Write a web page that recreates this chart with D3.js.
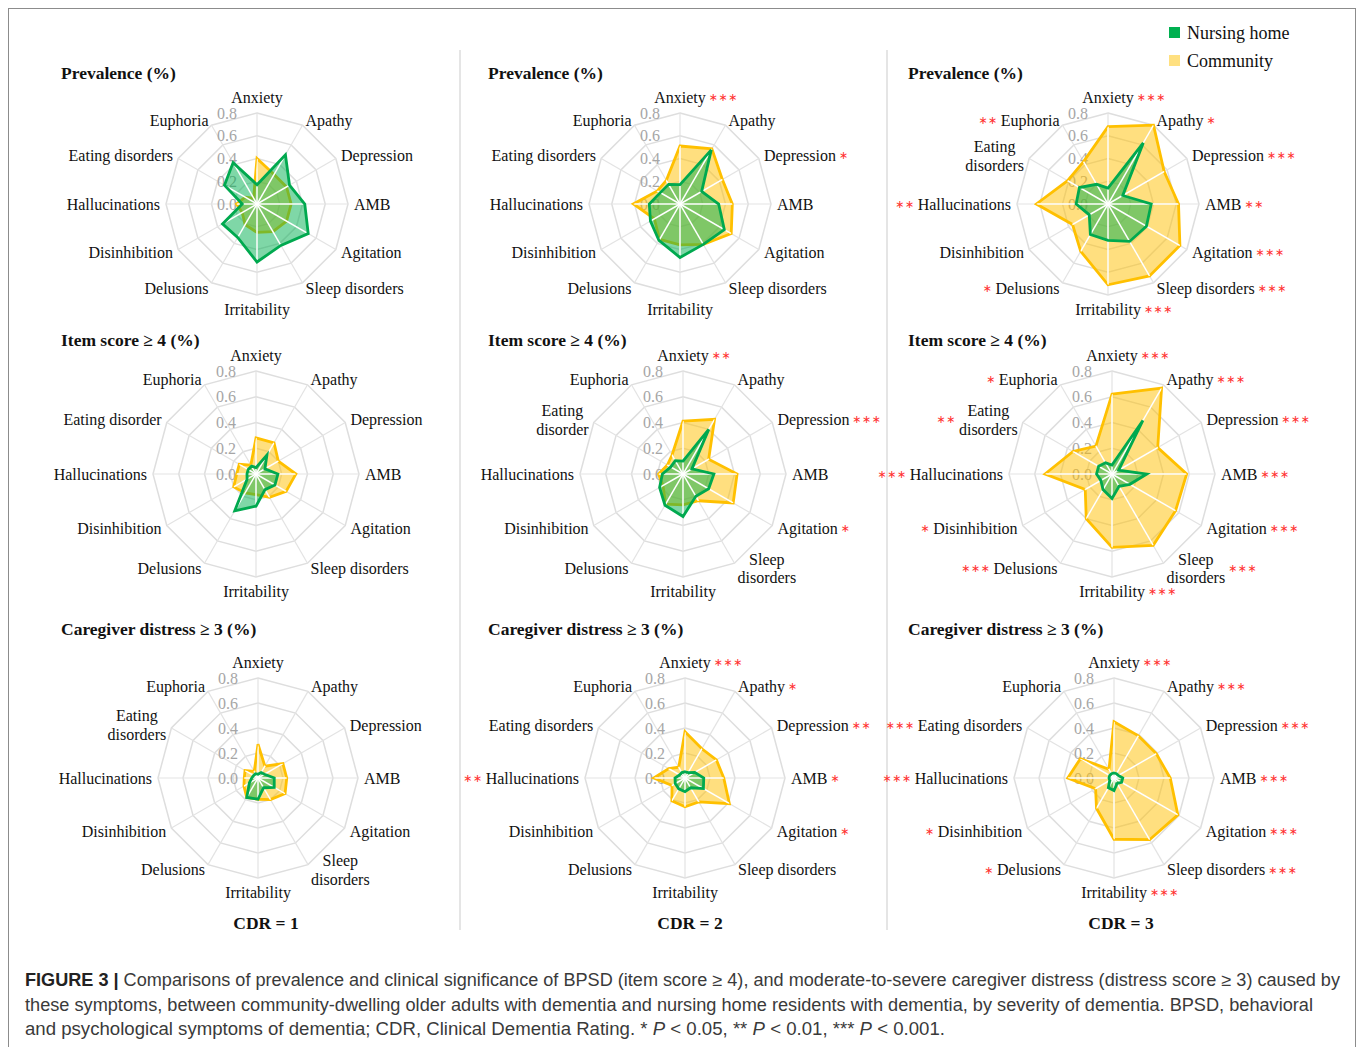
<!DOCTYPE html>
<html>
<head>
<meta charset="utf-8">
<script src="https://cdn.jsdelivr.net/npm/d3@7"></script>
<style>
  body { margin: 0; background: #fff; }
  svg text { font-family: "Liberation Serif", "Times New Roman", serif; }
</style>
</head>
<body>
<svg id="fig" width="1358" height="1047"></svg>
<script>
// order of the axes, clockwise from the top
const symptoms = ["Anxiety", "Apathy", "Depression", "AMB", "Agitation", "Sleep disorders",
  "Irritability", "Delusions", "Disinhibition", "Hallucinations", "Eating disorders", "Euphoria"];
const ticks = [0.0, 0.2, 0.4, 0.6, 0.8];
const ringValues = [0.2, 0.4, 0.6, 0.8];
const cdrLabels = ["CDR = 1", "CDR = 2", "CDR = 3"];
const rowTitles = ["Prevalence (%)", "Item score \u2265 4 (%)", "Caregiver distress \u2265 3 (%)"];

// Prevalence
const prevNursing1 = [0.17, 0.50, 0.33, 0.42, 0.52, 0.42, 0.51, 0.34, 0.35, 0.13, 0.33, 0.42];
const prevCommunity1 = [0.40, 0.30, 0.30, 0.30, 0.30, 0.28, 0.25, 0.21, 0.15, 0.18, 0.12, 0.06];
const prevNursing2 = [0.17, 0.55, 0.22, 0.34, 0.45, 0.41, 0.47, 0.37, 0.30, 0.27, 0.20, 0.20];
const prevCommunity2 = [0.51, 0.56, 0.43, 0.46, 0.52, 0.41, 0.36, 0.36, 0.26, 0.41, 0.23, 0.24];
const prevNursing3 = [0.14, 0.62, 0.15, 0.38, 0.39, 0.38, 0.32, 0.31, 0.19, 0.28, 0.29, 0.20];
const prevCommunity3 = [0.68, 0.80, 0.57, 0.62, 0.73, 0.73, 0.71, 0.48, 0.36, 0.63, 0.41, 0.43];

// Item score >= 4
const itemNursing1 = [0.05, 0.17, 0.08, 0.17, 0.17, 0.14, 0.25, 0.33, 0.08, 0.07, 0.07, 0.07];
const itemCommunity1 = [0.28, 0.28, 0.20, 0.31, 0.27, 0.21, 0.16, 0.17, 0.20, 0.15, 0.15, 0.08];
const itemNursing2 = [0.10, 0.40, 0.08, 0.24, 0.23, 0.20, 0.33, 0.28, 0.21, 0.16, 0.11, 0.12];
const itemCommunity2 = [0.41, 0.49, 0.23, 0.42, 0.45, 0.24, 0.24, 0.27, 0.18, 0.19, 0.14, 0.17];
const itemNursing3 = [0.07, 0.48, 0.06, 0.27, 0.16, 0.11, 0.19, 0.14, 0.10, 0.12, 0.12, 0.10];
const itemCommunity3 = [0.62, 0.77, 0.41, 0.58, 0.57, 0.64, 0.57, 0.40, 0.24, 0.52, 0.35, 0.25];

// Caregiver distress >= 3
const distNursing1 = [0.03, 0.05, 0.06, 0.13, 0.15, 0.09, 0.17, 0.18, 0.08, 0.05, 0.04, 0.04];
const distCommunity1 = [0.27, 0.11, 0.23, 0.23, 0.25, 0.20, 0.17, 0.18, 0.13, 0.11, 0.12, 0.06];
const distNursing2 = [0.05, 0.05, 0.09, 0.15, 0.17, 0.09, 0.11, 0.10, 0.09, 0.08, 0.05, 0.05];
const distCommunity2 = [0.37, 0.27, 0.29, 0.31, 0.41, 0.22, 0.23, 0.21, 0.12, 0.25, 0.15, 0.10];
const distNursing3 = [0.04, 0.04, 0.04, 0.07, 0.07, 0.05, 0.10, 0.09, 0.04, 0.04, 0.04, 0.04];
const distCommunity3 = [0.45, 0.39, 0.39, 0.45, 0.59, 0.57, 0.49, 0.28, 0.17, 0.37, 0.31, 0.08];

// significance marks per axis
const noStars = ["", "", "", "", "", "", "", "", "", "", "", ""];
const starsPrev2 = ["***", "", "*", "", "", "", "", "", "", "", "", ""];
const starsPrev3 = ["***", "*", "***", "**", "***", "***", "***", "*", "", "**", "", "**"];
const starsItem2 = ["**", "", "***", "", "*", "", "", "", "", "", "", ""];
const starsItem3 = ["***", "***", "***", "***", "***", "***", "***", "***", "*", "***", "**", "*"];
const starsDist2 = ["***", "*", "**", "*", "*", "", "", "", "", "**", "", ""];
const starsDist3 = ["***", "***", "***", "***", "***", "***", "***", "*", "*", "***", "***", ""];

// label variants (line breaks as in the figure)
const labelsPrev3 = symptoms.map(s => s === "Eating disorders" ? "Eating\ndisorders" : s);
const labelsItem1 = symptoms.map(s => s === "Eating disorders" ? "Eating disorder" : s);
const labelsItem2 = symptoms.map(s => s === "Eating disorders" ? "Eating\ndisorder" : s === "Sleep disorders" ? "Sleep\ndisorders" : s);
const labelsBroken = symptoms.map(s => s === "Eating disorders" ? "Eating\ndisorders" : s === "Sleep disorders" ? "Sleep\ndisorders" : s);

const GREEN = "#00a94f", YELLOW = "#ffc000";

const rows = [
  { cy: 204, radius: 91, titleY: 79, cx: [257, 680, 1108],
    nursing: [prevNursing1, prevNursing2, prevNursing3],
    community: [prevCommunity1, prevCommunity2, prevCommunity3],
    stars: [noStars, starsPrev2, starsPrev3],
    labels: [symptoms, symptoms, labelsPrev3] },
  { cy: 474, radius: 103, titleY: 346, cx: [256, 683, 1112],
    nursing: [itemNursing1, itemNursing2, itemNursing3],
    community: [itemCommunity1, itemCommunity2, itemCommunity3],
    stars: [noStars, starsItem2, starsItem3],
    labels: [labelsItem1, labelsItem2, labelsBroken] },
  { cy: 778, radius: 100, titleY: 635, cx: [258, 685, 1114],
    nursing: [distNursing1, distNursing2, distNursing3],
    community: [distCommunity1, distCommunity2, distCommunity3],
    stars: [noStars, starsDist2, starsDist3],
    labels: [labelsBroken, symptoms, symptoms] }
];
const titleX = [61, 488, 908];
const cdrX = [266, 690, 1121];

const svg = d3.select("#fig");

// frame + dividers
svg.append("rect").attr("x", 8.5).attr("y", 8.5).attr("width", 1347).attr("height", 1045)
  .attr("fill", "none").attr("stroke", "#8c8c8c").attr("stroke-width", 1);
[460, 887].forEach(x => {
  svg.append("line").attr("x1", x).attr("x2", x).attr("y1", 50).attr("y2", 930)
    .attr("stroke", "#dcdcdc").attr("stroke-width", 1.5);
});

let clipId = 0;
const step = 2 * Math.PI / symptoms.length;

function drawRadar(cx, cy, radius, nursing, community, stars, labels) {
  const r = d3.scaleLinear().domain([0, 0.8]).range([0, radius]);
  const g = svg.append("g").attr("transform", `translate(${cx},${cy})`);
  const radial = d3.lineRadial()
    .angle((d, i) => i * step)
    .radius(d => r(d))
    .curve(d3.curveLinearClosed);

  // grid rings
  g.selectAll("path.ring").data(ringValues).enter().append("path")
    .attr("class", "ring")
    .attr("d", v => radial(symptoms.map(() => v)))
    .attr("fill", "none").attr("stroke", "#dedede").attr("stroke-width", 1.5);
  // spokes
  g.selectAll("line.spoke").data(symptoms).enter().append("line")
    .attr("class", "spoke")
    .attr("x2", (d, i) => r(0.8) * Math.sin(i * step))
    .attr("y2", (d, i) => -r(0.8) * Math.cos(i * step))
    .attr("stroke", "#e3e3e3").attr("stroke-width", 1.2);

  // tick labels
  g.selectAll("text.tick").data(ticks).enter().append("text")
    .attr("class", "tick")
    .attr("x", -20).attr("y", d => -r(d)).attr("dy", "0.35em")
    .attr("text-anchor", "end").attr("font-size", 16).attr("fill", "#a6a6a6")
    .text(d => d.toFixed(1));

  // series
  g.append("path").attr("d", radial(community))
    .attr("fill", YELLOW).attr("fill-opacity", 0.5)
    .attr("stroke", YELLOW).attr("stroke-width", 2.8).attr("stroke-linejoin", "miter");
  g.append("path").attr("d", radial(nursing))
    .attr("fill", "#00b050").attr("fill-opacity", 0.5);

  // white spokes over the filled areas
  const id = "clip" + (clipId++);
  const clip = g.append("clipPath").attr("id", id);
  clip.append("path").attr("d", radial(community));
  clip.append("path").attr("d", radial(nursing));
  g.append("g").attr("clip-path", `url(#${id})`)
    .selectAll("line").data(symptoms).enter().append("line")
    .attr("x2", (d, i) => r(0.8) * Math.sin(i * step))
    .attr("y2", (d, i) => -r(0.8) * Math.cos(i * step))
    .attr("stroke", "#fff").attr("stroke-width", 1.5);

  g.append("path").attr("d", radial(nursing))
    .attr("fill", "none").attr("stroke", GREEN).attr("stroke-width", 2.8);

  // axis labels
  const R = radius + 6;
  const lineH = 19;
  labels.forEach((lab, i) => {
    const lines = lab.split("\n");
    const n = lines.length;
    const a = i * step;
    const px = R * Math.sin(a), py = -R * Math.cos(a);
    const lg = g.append("g");
    const t = lg.append("text").attr("font-size", 16).attr("fill", "#111").attr("text-anchor", "middle");
    lines.forEach((ln, k) => {
      t.append("tspan").attr("x", 0).attr("y", (k - (n - 1) / 2) * lineH).attr("dy", "0.35em").text(ln);
    });
    let w = 0;
    t.selectAll("tspan").each(function () { w = Math.max(w, this.getComputedTextLength()); });
    let gx, gy;
    if (i === 0) { gx = px; gy = py - 9.6 - (n - 1) * lineH / 2; }
    else if (i === 6) { gx = px; gy = py + 8.4 + (n - 1) * lineH / 2; }
    else if (i < 6) { gx = px + w / 2; gy = py; }
    else { gx = px - w / 2; gy = py; }
    lg.attr("transform", `translate(${gx},${gy})`);
    const s = stars[i];
    if (s) {
      const left = i > 6;
      lg.append("text")
        .attr("x", left ? -w / 2 - 3 : w / 2 + 3).attr("y", 0).attr("dy", "0.35em")
        .attr("text-anchor", left ? "end" : "start")
        .style("font-family", "'DejaVu Sans', sans-serif")
        .attr("font-size", 11).attr("fill", "#ff3030").attr("letter-spacing", 0.5)
        .text(s.replace(/\*/g, "\u2217"));
    }
  });
}

rows.forEach((row, ri) => {
  row.cx.forEach((cx, ci) => {
    svg.append("text").attr("x", titleX[ci]).attr("y", row.titleY)
      .attr("font-size", 17.5).attr("font-weight", "bold").attr("fill", "#111")
      .text(rowTitles[ri]);
    drawRadar(cx, row.cy, row.radius, row.nursing[ci], row.community[ci], row.stars[ci], row.labels[ci]);
  });
});

cdrLabels.forEach((c, i) => {
  svg.append("text").attr("x", cdrX[i]).attr("y", 929).attr("text-anchor", "middle")
    .attr("font-size", 17.5).attr("font-weight", "bold").attr("fill", "#111").text(c);
});

// legend
const legend = [["Nursing home", "#00b050"], ["Community", "#ffe080"]];
legend.forEach(([name, col], i) => {
  svg.append("rect").attr("x", 1169).attr("y", 27 + i * 28).attr("width", 11).attr("height", 11).attr("fill", col);
  svg.append("text").attr("x", 1187).attr("y", 39 + i * 28).attr("font-size", 18).attr("fill", "#111").text(name);
});

// caption
const cap = svg.append("g").style("font-family", "'Liberation Sans', Arial, sans-serif").attr("font-size", 17.5).attr("fill", "#3a3a3a");
const c1 = cap.append("text").attr("x", 25).attr("y", 986).attr("textLength", 1315).attr("lengthAdjust", "spacingAndGlyphs").style("font-family", "'Liberation Sans', Arial, sans-serif");
c1.append("tspan").attr("font-weight", "bold").attr("fill", "#222").text("FIGURE 3 | ");
c1.append("tspan").text("Comparisons of prevalence and clinical significance of BPSD (item score \u2265 4), and moderate-to-severe caregiver distress (distress score \u2265 3) caused by");
cap.append("text").attr("x", 25).attr("y", 1011).attr("textLength", 1288).attr("lengthAdjust", "spacingAndGlyphs").style("font-family", "'Liberation Sans', Arial, sans-serif")
  .text("these symptoms, between community-dwelling older adults with dementia and nursing home residents with dementia, by severity of dementia. BPSD, behavioral");
const c3 = cap.append("text").attr("x", 25).attr("y", 1035).attr("textLength", 920).attr("lengthAdjust", "spacingAndGlyphs").style("font-family", "'Liberation Sans', Arial, sans-serif");
c3.append("tspan").text("and psychological symptoms of dementia; CDR, Clinical Dementia Rating. * ");
c3.append("tspan").attr("font-style", "italic").text("P");
c3.append("tspan").text(" < 0.05, ** ");
c3.append("tspan").attr("font-style", "italic").text("P");
c3.append("tspan").text(" < 0.01, *** ");
c3.append("tspan").attr("font-style", "italic").text("P");
c3.append("tspan").text(" < 0.001.");
</script>
</body>
</html>
